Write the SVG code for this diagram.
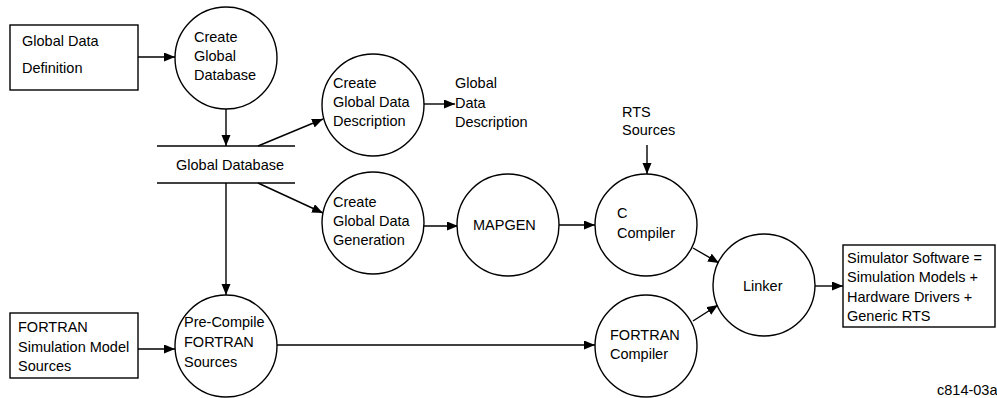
<svg xmlns="http://www.w3.org/2000/svg" width="997" height="398" viewBox="0 0 997 398">
<style>
text{font-family:"Liberation Sans",Arial,sans-serif;font-size:14.5px;fill:#000}
.n{fill:#fff;stroke:#000;stroke-width:1.4}
.c line{stroke:#000;stroke-width:1.4;fill:none}
.a{marker-end:url(#ah)}
</style>
<defs>
<marker id="ah" markerUnits="userSpaceOnUse" markerWidth="12" markerHeight="10" refX="11" refY="4.5" orient="auto">
<path d="M0,0 L11,4.5 L0,9 Z" fill="#000"/>
</marker>
</defs>
<rect width="997" height="398" fill="#fff"/>
<g id="connectors" class="c">
<line class="a" x1="138" y1="57" x2="175" y2="57"/>
<line class="a" x1="226" y1="109" x2="226" y2="146"/>
<line class="a" x1="258" y1="146" x2="323" y2="119"/>
<line class="a" x1="424" y1="104" x2="455" y2="104"/>
<line class="a" x1="258" y1="183" x2="323" y2="213"/>
<line class="a" x1="226" y1="183" x2="226" y2="295"/>
<line class="a" x1="138" y1="349" x2="175" y2="349"/>
<line class="a" x1="424" y1="226" x2="458" y2="226"/>
<line class="a" x1="559" y1="225" x2="595" y2="225"/>
<line class="a" x1="647" y1="145" x2="647" y2="174"/>
<line class="a" x1="277" y1="345" x2="595" y2="345"/>
<line class="a" x1="693" y1="248" x2="719" y2="263"/>
<line class="a" x1="693" y1="321" x2="718" y2="305"/>
<line class="a" x1="815" y1="286" x2="843" y2="286"/>
</g>
<g id="global-data-definition">
<rect class="n" x="10" y="25" width="128" height="65"/>
<text x="22" y="46">Global Data</text>
<text x="22" y="73">Definition</text>
</g>
<g id="create-global-database">
<circle class="n" cx="226" cy="58" r="51"/>
<text x="194" y="42">Create</text>
<text x="194" y="61">Global</text>
<text x="194" y="80">Database</text>
</g>
<g id="global-database">
<line x1="157" y1="146" x2="295" y2="146" stroke="#000" stroke-width="1.4"/>
<line x1="157" y1="183" x2="295" y2="183" stroke="#000" stroke-width="1.4"/>
<text x="176" y="170">Global Database</text>
</g>
<g id="create-global-data-description">
<circle class="n" cx="373" cy="105" r="51"/>
<text x="333" y="88">Create</text>
<text x="333" y="107">Global Data</text>
<text x="333" y="126">Description</text>
</g>
<g id="global-data-description">
<text x="455" y="88">Global</text>
<text x="455" y="108">Data</text>
<text x="455" y="127">Description</text>
</g>
<g id="create-global-data-generation">
<circle class="n" cx="373" cy="223" r="51"/>
<text x="333" y="207">Create</text>
<text x="333" y="226">Global Data</text>
<text x="333" y="245">Generation</text>
</g>
<g id="mapgen">
<circle class="n" cx="508" cy="225" r="51"/>
<text x="473" y="230">MAPGEN</text>
</g>
<g id="rts-sources">
<text x="622" y="117">RTS</text>
<text x="622" y="135">Sources</text>
</g>
<g id="c-compiler">
<circle class="n" cx="646" cy="225" r="51"/>
<text x="617" y="218">C</text>
<text x="617" y="238">Compiler</text>
</g>
<g id="fortran-simulation-model-sources">
<rect class="n" x="10" y="313" width="128" height="65"/>
<text x="18" y="332">FORTRAN</text>
<text x="18" y="352">Simulation Model</text>
<text x="18" y="371">Sources</text>
</g>
<g id="pre-compile-fortran-sources">
<circle class="n" cx="226" cy="346" r="51"/>
<text x="184" y="327">Pre-Compile</text>
<text x="184" y="347">FORTRAN</text>
<text x="184" y="367">Sources</text>
</g>
<g id="fortran-compiler">
<circle class="n" cx="646" cy="346" r="51"/>
<text x="610" y="340">FORTRAN</text>
<text x="610" y="359">Compiler</text>
</g>
<g id="linker">
<circle class="n" cx="764" cy="285" r="51"/>
<text x="743" y="291">Linker</text>
</g>
<g id="simulator-software">
<rect class="n" x="843" y="245" width="152" height="82"/>
<text x="847" y="263">Simulator Software =</text>
<text x="847" y="282">Simulation Models +</text>
<text x="847" y="302">Hardware Drivers +</text>
<text x="847" y="321">Generic RTS</text>
</g>
<text x="937" y="395">c814-03a</text>
</svg>
